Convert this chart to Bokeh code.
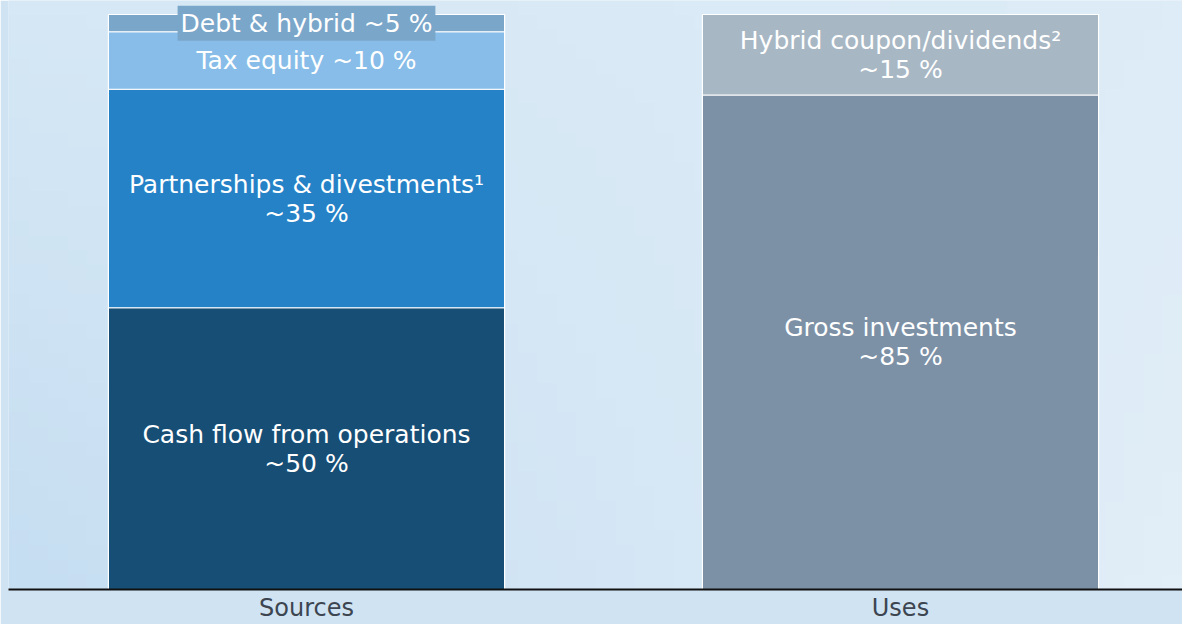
import numpy as np
from bokeh.plotting import figure
from bokeh.models import Range1d, FixedTicker, ColumnDataSource
from bokeh.core.properties import value
from bokeh.embed import file_html
from bokeh.resources import INLINE

# ---- data ----
categories = ["Sources", "Uses"]
sources_labels = ["Cash flow from operations\n~50 %", "Partnerships & divestments\u00b9\n~35 %",
                  "Tax equity ~10 %", "Debt & hybrid ~5 %"]
sources_values = [49, 38, 10, 3]
uses_labels = ["Gross investments\n~85 %", "Hybrid coupon/dividends\u00b2\n~15 %"]
uses_values = [86, 14]

sources_colors = ["#174E75", "#2582C7", "#87BDE8", "#7AA6CA"]
uses_colors = ["#7D91A6", "#A8B7C4"]

W, H = 1182, 624
x_start, x_end = -0.0017, 1.9748
frame_h = 589
y_end = 100 * frame_h / (frame_h - 14)

p = figure(width=W, height=H, output_backend="svg", toolbar_location=None,
           x_range=Range1d(x_start, x_end), y_range=Range1d(0, y_end),
           min_border_left=8, min_border_right=0, min_border_top=0, min_border_bottom=0)
p.background_fill_color = "#d9e9f6"
p.border_fill_color = "#cfe3f3"
p.outline_line_color = None
p.grid.visible = False
p.yaxis.visible = False

# background gradient (style only)
nx, ny = 60, 40
u = np.linspace(0, 1, nx)[None, :]
v = np.linspace(0, 1, ny)[:, None]  # 0 bottom, 1 top
tl = np.array([0xd6, 0xe8, 0xf5]); tr = np.array([0xdd, 0xec, 0xf7])
bl = np.array([0xc6, 0xde, 0xf2]); br = np.array([0xe2, 0xee, 0xf8])
img = np.zeros((ny, nx), dtype=np.uint32)
view = img.view(dtype=np.uint8).reshape((ny, nx, 4))
for c in range(3):
    col = (bl[c] * (1 - u) * (1 - v) + br[c] * u * (1 - v) + tl[c] * (1 - u) * v + tr[c] * u * v)
    view[:, :, c] = col.astype(np.uint8)
view[:, :, 3] = 255
p.image_rgba(image=[img], x=x_start, y=0, dw=x_end - x_start, dh=y_end)

bar_w = 0.667
font = value("DejaVu Sans")
fsize = "25px"

def draw_stack(xpos, vals, labels, colors):
    tops = np.cumsum(vals)
    bottoms = tops - np.array(vals)
    mids = (bottoms + tops) / 2
    src = ColumnDataSource(dict(x=[xpos] * len(vals), bottom=bottoms, top=tops,
                                color=colors))
    p.vbar(x="x", bottom="bottom", top="top", width=bar_w, source=src,
           fill_color="color", line_color="white", line_width=1.2)
    plain = ColumnDataSource(dict(x=[xpos for v_ in vals if v_ >= 5],
                                  y=[m for m, v_ in zip(mids, vals) if v_ >= 5],
                                  t=[l for l, v_ in zip(labels, vals) if v_ >= 5]))
    p.text(x="x", y="y", text="t", source=plain, text_color="white", text_font=font,
           text_font_size=fsize, text_align="center", text_baseline="middle",
           text_line_height=1.0)
    boxed_idx = [i for i, v_ in enumerate(vals) if v_ < 5]
    if boxed_idx:
        boxed = ColumnDataSource(dict(x=[xpos for i in boxed_idx],
                                      y=[mids[i] for i in boxed_idx],
                                      t=[labels[i] for i in boxed_idx]))
        p.text(x="x", y="y", text="t", source=boxed, text_color="white", text_font=font,
               text_font_size=fsize, text_align="center", text_baseline="middle",
               background_fill_color=colors[boxed_idx[0]], padding=3)

draw_stack(0.5, sources_values, sources_labels, sources_colors)
draw_stack(1.5, uses_values, uses_labels, uses_colors)

p.xaxis.ticker = FixedTicker(ticks=[0.5, 1.5])
p.xaxis.major_label_overrides = {0.5: categories[0], 1.5: categories[1]}
p.xaxis.major_tick_line_color = None
p.xaxis.minor_tick_line_color = None
p.xaxis.major_tick_out = 0
p.xaxis.axis_line_color = "#111111"
p.xaxis.axis_line_width = 2
p.xaxis.major_label_text_font = "DejaVu Sans"
p.xaxis.major_label_text_font_size = "24px"
p.xaxis.major_label_text_color = "#3C4550"
p.xaxis.major_label_standoff = 4

open("out.html", "w").write(file_html(p, INLINE))
